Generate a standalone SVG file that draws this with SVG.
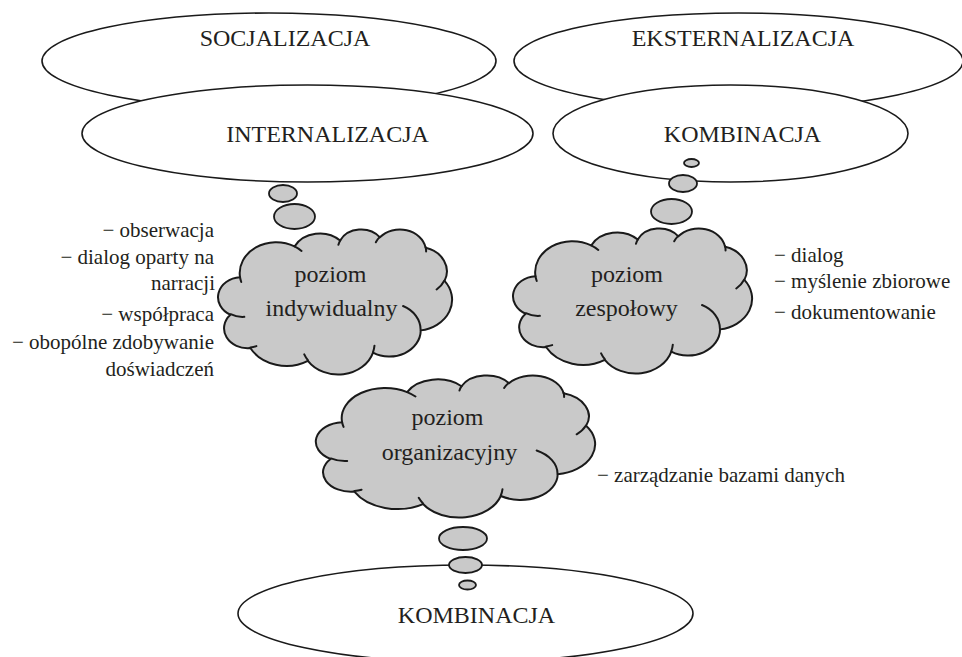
<svg xmlns="http://www.w3.org/2000/svg" xmlns:xlink="http://www.w3.org/1999/xlink" width="962" height="657" viewBox="0 0 962 657">
<style>
  .ell { fill: #ffffff; stroke: #1a1a1a; stroke-width: 1.6; }
  .bub { fill: #c9c9c9; stroke: #1a1a1a; stroke-width: 1.8; }
  .cl { fill: #c9c9c9; stroke: #1a1a1a; stroke-width: 2; vector-effect: non-scaling-stroke; stroke-linejoin: round; }
  .cli { fill: none; stroke: #1a1a1a; stroke-width: 2; vector-effect: non-scaling-stroke; stroke-linecap: round; }
  .big { font-family: "Liberation Serif", "Times New Roman", serif; font-size: 24px; fill: #231f20; text-anchor: middle; }
  .lst { font-family: "Liberation Serif", "Times New Roman", serif; font-size: 21px; fill: #231f20; }
  .r { text-anchor: end; }
</style>
<defs>
  <path id="cloudOuter" class="cl" d="M3900 14370 A6753 9190 0 0 1 14005 5202 A5333 7267 0 0 1 22456 3431 A4365 5945 0 0 1 29833 2480 A4857 6595 0 0 1 38318 5575 A5333 7273 0 0 1 41818 15458 A6775 9220 0 0 1 37404 30202 A5785 7867 0 0 1 28556 36812 A6752 9215 0 0 1 16480 39263 A7720 10543 0 0 1 5805 35469 A4360 5918 0 0 1 2113 25547 A4345 5945 0 0 1 3900 14370 Z"/>
  <path id="cloudInner" class="cli" d="M4693 26177 A4345 5945 0 0 1 2160 25380 M6928 34899 A4360 5918 0 0 1 5819 35281 M16478 39090 A6752 9215 0 0 1 15810 37349 M28827 34751 A6752 9215 0 0 1 28560 36660 M34129 22954 A5785 7867 0 0 1 37378 30088 M41798 15354 A5333 7273 0 0 1 40349 18031 M38324 5426 A4857 6595 0 0 1 38400 6690 M29078 3952 A4857 6595 0 0 1 29820 2340 M22141 4720 A4365 5945 0 0 1 22500 3330 M14000 5192 A6753 9190 0 0 1 15300 6540 M4127 15789 A6753 9190 0 0 1 3900 14370"/>
</defs>

<g id="socjalizacja">
  <ellipse class="ell" cx="269" cy="61" rx="227" ry="48"/>
  <text class="big" x="285" y="46">SOCJALIZACJA</text>
</g>
<g id="eksternalizacja">
  <ellipse class="ell" cx="738.5" cy="61" rx="224.5" ry="48"/>
  <text class="big" x="743" y="46">EKSTERNALIZACJA</text>
</g>
<g id="internalizacja">
  <ellipse class="ell" cx="307.5" cy="133.5" rx="225.5" ry="48.5"/>
  <text class="big" x="327.5" y="142">INTERNALIZACJA</text>
</g>
<g id="kombinacja-top">
  <ellipse class="ell" cx="730.5" cy="133.5" rx="177.5" ry="48.5"/>
  <text class="big" x="742.5" y="142">KOMBINACJA</text>
</g>
<g id="kombinacja-bottom">
  <ellipse class="ell" cx="465.5" cy="613.5" rx="227.5" ry="48.5"/>
  <text class="big" x="476.5" y="623">KOMBINACJA</text>
</g>

<g id="connectors">
  <ellipse class="bub" cx="283" cy="193.5" rx="14" ry="8.5"/>
  <ellipse class="bub" cx="294.5" cy="216.5" rx="20.5" ry="12.5"/>
  <ellipse class="bub" cx="691.5" cy="163" rx="7.5" ry="4"/>
  <ellipse class="bub" cx="683" cy="183.5" rx="14" ry="8.5"/>
  <ellipse class="bub" cx="671.5" cy="211.5" rx="20.5" ry="12.5"/>
  <ellipse class="bub" cx="463" cy="538.5" rx="24" ry="11.5"/>
  <ellipse class="bub" cx="465.5" cy="565" rx="16.5" ry="8"/>
  <ellipse class="bub" cx="467.5" cy="585" rx="8.5" ry="4.5"/>
</g>

<g id="poziom-indywidualny">
  <g transform="translate(219 229) scale(0.0053935 0.0033565)">
    <use xlink:href="#cloudOuter"/>
    <use xlink:href="#cloudInner"/>
  </g>
  <text class="big" x="330.5" y="282">poziom</text>
  <text class="big" x="331.5" y="316">indywidualny</text>
</g>
<g id="poziom-zespolowy">
  <g transform="translate(514 228) scale(0.0055093 0.0033565)">
    <use xlink:href="#cloudOuter"/>
    <use xlink:href="#cloudInner"/>
  </g>
  <text class="big" x="627" y="282">poziom</text>
  <text class="big" x="626.5" y="316">zespołowy</text>
</g>
<g id="poziom-organizacyjny">
  <g transform="translate(317 375) scale(0.0064352 0.0032870)">
    <use xlink:href="#cloudOuter"/>
    <use xlink:href="#cloudInner"/>
  </g>
  <text class="big" x="447.5" y="425">poziom</text>
  <text class="big" x="449.5" y="460">organizacyjny</text>
</g>

<g id="lista-indywidualna">
  <text class="lst r" x="214" y="236.5">− obserwacja</text>
  <text class="lst r" x="214" y="264">− dialog oparty na</text>
  <text class="lst r" x="215" y="290">narracji</text>
  <text class="lst r" x="214" y="320.5">− współpraca</text>
  <text class="lst r" x="214" y="349">− obopólne zdobywanie</text>
  <text class="lst r" x="214" y="375.5">doświadczeń</text>
</g>
<g id="lista-zespolowa">
  <text class="lst" x="774" y="261.5">− dialog</text>
  <text class="lst" x="774" y="288">− myślenie zbiorowe</text>
  <text class="lst" x="774" y="319">− dokumentowanie</text>
</g>
<g id="lista-organizacyjna">
  <text class="lst" x="597" y="482">− zarządzanie bazami danych</text>
</g>
</svg>
